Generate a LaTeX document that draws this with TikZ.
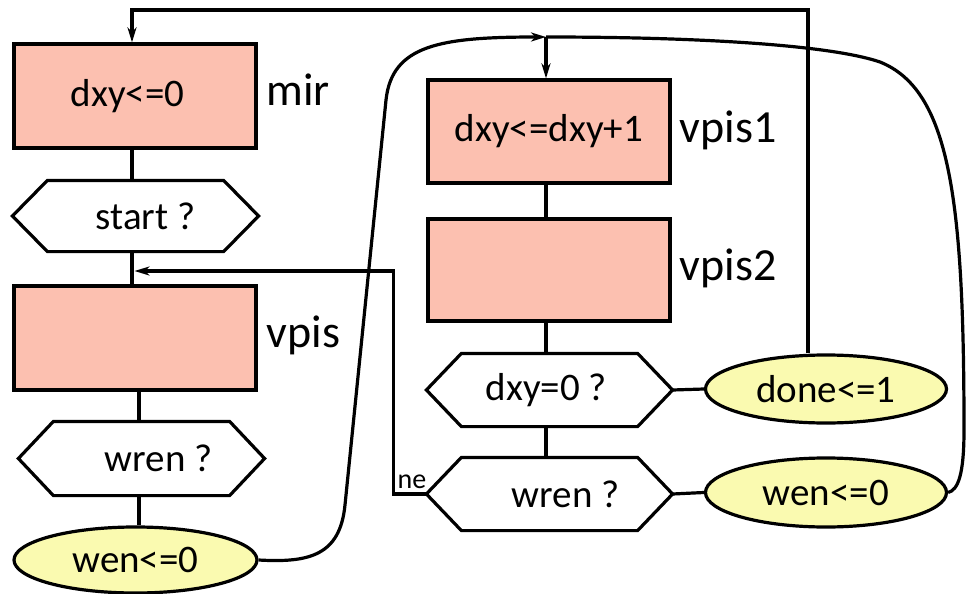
\documentclass[tikz,border=0pt]{standalone}
\usepackage{fontspec}
\setmainfont{Carlito}
\usetikzlibrary{arrows.meta,shapes.geometric,calc}
\definecolor{boxfill}{RGB}{252,192,176}
\definecolor{ovalfill}{RGB}{250,250,176}
% outline of a decision hexagon around a (borderless) node: #1 node name, #2 chamfer
\newcommand{\hexoutline}[2]{%
  \draw[hexline] ([xshift=#2]#1.north west) -- ([xshift=-#2]#1.north east) -- (#1.east)
    -- ([xshift=-#2]#1.south east) -- ([xshift=#2]#1.south west) -- (#1.west) -- cycle;}
\begin{document}
\begin{tikzpicture}[x=1pt,y=-1pt,line width=3.2pt,
  every node/.style={inner sep=0pt,font=\fontsize{39}{42}\selectfont},
  state/.style={draw,fill=boxfill,minimum width=242pt,minimum height=104pt},
  test/.style={minimum width=243pt,minimum height=69pt},
  hexline/.style={line join=miter},
  action/.style={ellipse,draw,fill=ovalfill,minimum width=242pt,minimum height=68pt},
  tag/.style={anchor=base west,font=\fontsize{46}{50}\selectfont},
  flow/.style={-{Stealth[length=15pt,width=9pt,inset=4.5pt]}}]
\useasboundingbox (0,0) rectangle (967,594);

% left column
\node[state] (mir) at (135,96) {\hspace*{-15pt}dxy<=0};
\node[tag] (lmir) at (265,106) {mir};
\node[test,minimum height=68pt] (start) at (135.5,216) {\hspace*{20pt}start ?};
\hexoutline{start}{35pt}
\node[state] (vpis) at (135,338) {};
\node[tag] (lvpis) at (265,347) {vpis};
\node[test,minimum height=71pt] (wrenL) at (141.5,458.5) {\hspace*{34pt}wren ?};
\hexoutline{wrenL}{35pt}
\node[action,minimum width=243pt,minimum height=66pt] (wenL) at (135.5,560) {wen<=0};

% right column
\node[state,minimum height=103pt] (vpis1) at (549,131.5) {dxy<=dxy+1};
\node[tag] (lvpis1) at (678,142) {vpis1};
\node[state,minimum height=102pt] (vpis2) at (549,270) {};
\node[tag] (lvpis2) at (678,280) {vpis2};
\node[test,minimum width=243pt,minimum height=70pt] (dxy) at (549.5,390) {\hspace*{-6pt}dxy=0 ?};
\hexoutline{dxy}{35pt}
\node[test,minimum width=243pt,minimum height=70pt] (wrenR) at (549.5,494) {\hspace*{32pt}wren ?};
\hexoutline{wrenR}{35pt}
\node[action,minimum width=241pt] (done) at (826,389) {done<=1};
\node[action,minimum width=241pt,minimum height=69pt] (wenR) at (826,492.5) {wen<=0};
\node[anchor=base west,font=\fontsize{28}{30}\selectfont] (ne) at (396,488) {ne};

% junction points of the loops
\coordinate (merge) at (134.5,271);
\coordinate (loop) at (546,37);
\coordinate (topleft) at (132,10);

% straight flow between the steps
\draw (mir.south -| topleft) -- (start.north -| topleft);
\draw (start.south -| topleft) -- (vpis.north -| topleft);
\draw (vpis.south -| 139,0) -- (wrenL.north -| 139,0);
\draw (wrenL.south -| 139,0) -- (wenL.north -| 139,0);
\draw (vpis1.south -| loop) -- (vpis2.north -| loop);
\draw (vpis2.south -| loop) -- (dxy.north -| loop);
\draw (dxy.south -| loop) -- (wrenR.north -| loop);
\draw (dxy.east) -- (done.west);
\draw (wrenR.east) -- (wenR.west);

% returns
\draw[flow] ([xshift=-18pt]done.north) |- (topleft) -- (topleft |- mir.north);
\draw[flow] (wrenR.west) -- ++(-33,0) |- (merge);
\draw[flow] (loop) -- (loop |- vpis1.north);
\draw[flow] (wenL.east) .. controls (310,563) and (340,555) .. (345,505)
  -- (386,100) .. controls (392,45) and (440,37) .. (loop);
\draw (wenR.east) .. controls (958,490) and (964,475) .. (964,430)
  .. controls (964,200) and (950,90) .. (880,62)
  .. controls (830,45) and (700,37) .. (loop);
\end{tikzpicture}
\end{document}
